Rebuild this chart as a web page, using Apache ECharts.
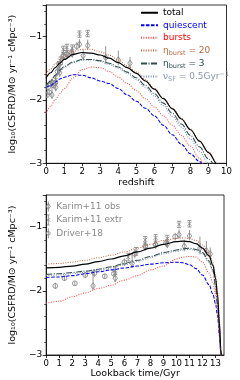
<!DOCTYPE html>
<html><head><meta charset="utf-8">
<script src="https://cdn.jsdelivr.net/npm/echarts@6/dist/echarts.min.js"></script>
<style>html,body{margin:0;padding:0;background:#fff}#c{width:240px;height:380px}</style>
</head><body><div id="c"></div>
<script>
// ---------- top panel: redshift ----------
const zGrid = [0, 0.25, 0.5, 0.75, 1, 1.5, 2, 2.5, 3, 3.5, 4, 4.5, 5, 5.5, 6, 6.5, 7, 7.5, 8, 8.5, 9, 9.5, 10];
const zTotal = [-1.65, -1.57, -1.49, -1.42, -1.36, -1.28, -1.25, -1.26, -1.29, -1.34, -1.41, -1.49, -1.58, -1.70, -1.83, -1.98, -2.14, -2.30, -2.47, -2.65, -2.83, -3.02, -3.2];
const zEta20 = [-1.59, -1.51, -1.43, -1.36, -1.31, -1.23, -1.20, -1.20, -1.24, -1.29, -1.37, -1.46, -1.56, -1.68, -1.82, -1.97, -2.13, -2.29, -2.46, -2.64, -2.82, -3.01, -3.2];
const zEta3 = [-1.77, -1.70, -1.61, -1.53, -1.47, -1.40, -1.36, -1.36, -1.38, -1.42, -1.48, -1.56, -1.65, -1.77, -1.90, -2.05, -2.21, -2.38, -2.56, -2.74, -2.93, -3.1, -3.3];
const zNuSF = [-1.80, -1.72, -1.63, -1.55, -1.49, -1.41, -1.37, -1.37, -1.39, -1.44, -1.50, -1.58, -1.68, -1.80, -1.94, -2.09, -2.26, -2.43, -2.62, -2.81, -3.0, -3.2, -3.4];
const zGridB = [0, 0.25, 0.5, 0.75, 1, 1.5, 2, 2.5, 3, 3.5, 4, 4.5, 5, 5.5, 6, 6.5, 7, 7.5, 8, 8.5, 8.75, 9];
const zQuiescent = [-1.80, -1.77, -1.72, -1.67, -1.64, -1.60, -1.61, -1.65, -1.70, -1.74, -1.82, -1.92, -2.02, -2.13, -2.25, -2.40, -2.55, -2.70, -2.85, -2.97, -3.03, -3.1];
const zBursts = [-2.21, -2.10, -2.00, -1.90, -1.82, -1.65, -1.52, -1.48, -1.49, -1.55, -1.64, -1.74, -1.85, -1.98, -2.11, -2.25, -2.40, -2.56, -2.73, -2.92, -3.02, -3.1];

// ---------- bottom panel: lookback time ----------
const tGrid = [0, 1, 2, 3, 4, 5, 6, 7, 8, 9, 10, 10.5, 11, 11.5, 12, 12.5, 12.8, 13.0, 13.15, 13.3, 13.4, 13.5];
const tTotal = [-1.64, -1.63, -1.61, -1.58, -1.54, -1.50, -1.45, -1.39, -1.33, -1.27, -1.23, -1.22, -1.23, -1.26, -1.33, -1.45, -1.60, -1.80, -2.05, -2.50, -2.90, -3.3];
const tEta20 = [-1.58, -1.57, -1.55, -1.52, -1.48, -1.44, -1.39, -1.33, -1.27, -1.21, -1.18, -1.17, -1.18, -1.21, -1.28, -1.40, -1.56, -1.76, -2.02, -2.48, -2.88, -3.3];
const tEta3 = [-1.74, -1.73, -1.71, -1.69, -1.66, -1.62, -1.57, -1.52, -1.46, -1.40, -1.36, -1.34, -1.33, -1.35, -1.40, -1.53, -1.67, -1.92, -2.20, -2.60, -2.95, -3.3];
const tNuSF = [-1.76, -1.75, -1.73, -1.71, -1.68, -1.64, -1.59, -1.54, -1.48, -1.42, -1.38, -1.36, -1.35, -1.37, -1.42, -1.55, -1.70, -1.95, -2.22, -2.65, -3.0, -3.3];
const tQuiescent = [-1.79, -1.78, -1.76, -1.73, -1.70, -1.67, -1.64, -1.61, -1.58, -1.56, -1.55, -1.56, -1.59, -1.65, -1.75, -1.90, -2.05, -2.20, -2.38, -2.70, -2.95, -3.3];
const tBursts = [-2.19, -2.16, -2.09, -2.03, -1.96, -1.91, -1.83, -1.76, -1.67, -1.61, -1.50, -1.47, -1.46, -1.47, -1.55, -1.72, -1.88, -2.05, -2.30, -2.70, -2.95, -3.3];

// ---------- observations ----------
const driverT = [0.7, 1.4, 2.2, 3.0, 3.7, 4.5, 5.2, 6.0, 6.8, 7.6, 8.4, 9.2, 9.9];
const driverZ = [0.05, 0.10, 0.17, 0.24, 0.32, 0.41, 0.51, 0.63, 0.78, 0.95, 1.15, 1.40, 1.70];
const driverV = [-1.92, -1.80, -1.88, -1.75, -1.72, -1.77, -1.73, -1.55, -1.42, -1.30, -1.28, -1.25, -1.15];
const driverErr = [0.05, 0.04, 0.03, 0.05, 0.06, 0.04, 0.05, 0.06, 0.07, 0.06, 0.06, 0.06, 0.06];

const karimObsT = [3.6, 5.3, 6.6, 7.6, 8.4, 9.3, 10.2, 10.6, 11.0, 11.8, 12.3, 12.6];
const karimObsZ = [0.32, 0.53, 0.75, 0.95, 1.15, 1.45, 1.85, 2.05, 2.3, 3.3, 4.0, 4.65];
const karimObsV = [-1.92, -1.80, -1.57, -1.31, -1.27, -1.27, -1.12, -1.30, -1.14, -1.33, -1.37, -1.42];
const karimObsErrLo = [0.06, 0.06, 0.07, 0.06, 0.06, 0.06, 0.06, 0.08, 0.07, 0.10, 0.08, 0.08];
const karimObsErrHi = [0.25, 0.20, 0.15, 0.10, 0.10, 0.10, 0.08, 0.10, 0.09, 0.18, 0.15, 0.10];

const karimExtrT = [5.3, 6.3, 6.9, 7.6, 8.4, 9.3, 10.2, 11.0];
const karimExtrZ = [0.53, 0.68, 0.80, 0.95, 1.15, 1.45, 1.85, 2.3];
const karimExtrV = [-1.68, -1.47, -1.38, -1.20, -1.17, -1.18, -0.96, -0.95];
const karimExtrErr = [0.06, 0.06, 0.06, 0.05, 0.05, 0.05, 0.05, 0.05];

const yTickLabels = ['−3', '−2', '−1'];

const FONT = 'DejaVu Sans';
const GREY = '#8a8a8a';
const C = { total: '#000000', quiescent: '#0000ff', bursts: '#ff4a4a', eta20: '#c26a40', eta3: '#2f4f4f', nusf: '#8090a8' };

const chart = echarts.init(document.getElementById('c'), null, { renderer: 'canvas' });

function pairs(xs, ys) { return xs.map((x, i) => [x, ys[i]]); }

function lineSeries(name, xs, ys, color, type, idx, width) {
  return {
    type: 'line', name: name, xAxisIndex: idx, yAxisIndex: idx,
    data: pairs(xs, ys), symbol: 'none', showSymbol: false, smooth: 0.35, smoothMonotone: 'x',
    lineStyle: { color: color, width: width || 1.05, type: type },
    itemStyle: { color: color }, clip: true, z: 3
  };
}

function errSeries(name, xs, vs, lo, hi, marker, idx) {
  return {
    type: 'custom', name: name, xAxisIndex: idx, yAxisIndex: idx, clip: true, z: 2,
    data: xs.map((x, i) => [x, vs[i], vs[i] - lo[i], vs[i] + hi[i]]),
    itemStyle: { color: GREY },
    renderItem: function (params, api) {
      const p = api.coord([api.value(0), api.value(1)]);
      const a = api.coord([api.value(0), api.value(2)]);
      const b = api.coord([api.value(0), api.value(3)]);
      const st = { stroke: GREY, lineWidth: 0.9, fill: null };
      const ch = [{ type: 'line', shape: { x1: a[0], y1: a[1], x2: b[0], y2: b[1] }, style: st }];
      if (marker === 'diamond') {
        ch.push({ type: 'polygon', shape: { points: [[p[0], p[1] - 3.3], [p[0] + 2.2, p[1]], [p[0], p[1] + 3.3], [p[0] - 2.2, p[1]]] }, style: { stroke: GREY, lineWidth: 0.9, fill: 'rgba(255,255,255,0)' } });
      } else if (marker === 'circle') {
        ch.push({ type: 'circle', shape: { cx: p[0], cy: p[1], r: 2.4 }, style: { stroke: GREY, lineWidth: 0.9, fill: 'rgba(255,255,255,0)' } });
      } else {
        ch.push({ type: 'line', shape: { x1: p[0] - 2, y1: p[1] - 2, x2: p[0] + 2, y2: p[1] + 2 }, style: st });
        ch.push({ type: 'line', shape: { x1: p[0] - 2, y1: p[1] + 2, x2: p[0] + 2, y2: p[1] - 2 }, style: st });
        ch.push({ type: 'line', shape: { x1: a[0] - 2, y1: a[1], x2: a[0] + 2, y2: a[1] }, style: st });
        ch.push({ type: 'line', shape: { x1: b[0] - 2, y1: b[1], x2: b[0] + 2, y2: b[1] }, style: st });
      }
      return { type: 'group', children: ch };
    }
  };
}

const yName = 'log₁₀(CSFRD/M⊙ yr⁻¹ cMpc⁻³)';
function yAxis(idx) {
  return {
    type: 'value', gridIndex: idx, min: -3, max: -0.5, interval: 1,
    name: yName, nameLocation: 'middle', nameGap: 20,
    nameTextStyle: { fontFamily: FONT, fontSize: 9.5, color: '#000' },
    axisLine: { show: true, lineStyle: { color: '#000', width: 0.8 } },
    axisTick: { show: true, inside: false, length: 3.5, lineStyle: { color: '#000', width: 0.8 } },
    minorTick: { show: true, splitNumber: 5, length: 2, lineStyle: { color: '#000', width: 0.6 } },
    splitLine: { show: false }, minorSplitLine: { show: false },
    axisLabel: { fontFamily: FONT, fontSize: 9, color: '#000', margin: 4, showMaxLabel: false,
      formatter: v => (Number.isInteger(v) && v >= -3 && v <= -1) ? yTickLabels[v + 3] : '' }
  };
}
function xAxis(idx, max, name) {
  return {
    type: 'value', gridIndex: idx, min: 0, max: max, interval: 1,
    name: name, nameLocation: 'middle', nameGap: 14,
    nameTextStyle: { fontFamily: FONT, fontSize: 9.5, color: '#000' },
    axisLine: { show: true, onZero: false, lineStyle: { color: '#000', width: 0.8 } },
    axisTick: { show: true, inside: false, length: 3, lineStyle: { color: '#000', width: 0.8 } },
    splitLine: { show: false },
    axisLabel: { fontFamily: FONT, fontSize: 8.5, color: '#000', margin: 4, showMaxLabel: Number.isInteger(max),
      formatter: v => Number.isInteger(v) ? String(v) : '' }
  };
}

const richSub = {
  s: { fontSize: 6.5, lineHeight: 12, verticalAlign: 'bottom', fontFamily: FONT },
  sup: { fontSize: 6.5, lineHeight: 12, verticalAlign: 'top', fontFamily: FONT }
};
const legendFmt = {
  'total': 'total', 'quiescent': 'quiescent', 'bursts': 'bursts',
  'ηburst = 20': 'η{s|burst} = 20', 'ηburst = 3': 'η{s|burst} = 3', 'νSF = 0.5Gyr⁻¹': 'ν{s|SF} = 0.5Gyr{sup|−1}'
};
const hideSym = { opacity: 0 };

const option = {
  animation: false,
  backgroundColor: '#fff',
  textStyle: { fontFamily: FONT },
  grid: [
    { left: 33, top: 5, width: 193.5, height: 158.3, show: true, borderColor: '#000', borderWidth: 0.8, backgroundColor: 'transparent' },
    { left: 33, top: 195, width: 191, height: 160.7, show: true, borderColor: '#000', borderWidth: 0.8, backgroundColor: 'transparent' }
  ],
  xAxis: [xAxis(0, 10, 'redshift'), xAxis(1, 13.65, 'Lookback time/Gyr')],
  yAxis: [yAxis(0), yAxis(1)],
  legend: [
    {
      orient: 'vertical', left: 140, top: 7, padding: 0, itemGap: 1, itemWidth: 17, itemHeight: 8,
      textStyle: { fontFamily: FONT, fontSize: 9, lineHeight: 11.5, rich: richSub },
      formatter: n => legendFmt[n] || n,
      data: [
        { name: 'total', textStyle: { color: '#000' }, itemStyle: hideSym },
        { name: 'quiescent', textStyle: { color: '#0000ff' }, itemStyle: hideSym },
        { name: 'bursts', textStyle: { color: '#ff0000' }, itemStyle: hideSym },
        { name: 'ηburst = 20', textStyle: { color: '#b8683f' }, itemStyle: hideSym },
        { name: 'ηburst = 3', textStyle: { color: '#2f4f4f' }, itemStyle: hideSym },
        { name: 'νSF = 0.5Gyr⁻¹', textStyle: { color: '#8a97aa' }, itemStyle: hideSym }
      ]
    },
    {
      orient: 'vertical', left: 46, top: 201, padding: 0, itemGap: 2.5, itemWidth: 6, itemHeight: 10,
      textStyle: { fontFamily: FONT, fontSize: 9, color: GREY },
      data: [
        { name: 'Karim+11 obs', icon: 'path://M3,0L3,16M3,3L6,8L3,13L0,8Z', itemStyle: { color: 'transparent', borderColor: GREY, borderWidth: 0.9 } },
        { name: 'Karim+11 extr', icon: 'path://M3,0L3,16M1,0L5,0M1,16L5,16M0.5,5.5L5.5,10.5M0.5,10.5L5.5,5.5', itemStyle: { color: 'transparent', borderColor: GREY, borderWidth: 0.9 } },
        { name: 'Driver+18', icon: 'path://M3,0L3,16M3,5A3,3,0,1,1,2.99,5Z', itemStyle: { color: 'transparent', borderColor: GREY, borderWidth: 0.9 } }
      ]
    }
  ],
  series: [
    errSeries('Karim+11 obs', karimObsZ, karimObsV, karimObsErrLo, karimObsErrHi, 'diamond', 0),
    errSeries('Karim+11 extr', karimExtrZ, karimExtrV, karimExtrErr, karimExtrErr, 'x', 0),
    errSeries('Driver+18', driverZ, driverV, driverErr, driverErr, 'circle', 0),
    lineSeries('quiescent', zGridB, zQuiescent, C.quiescent, [3.5, 1.5], 0),
    lineSeries('bursts', zGridB, zBursts, C.bursts, [1, 1.4], 0),
    lineSeries('νSF = 0.5Gyr⁻¹', zGrid, zNuSF, C.nusf, [1, 1.4], 0),
    lineSeries('ηburst = 3', zGrid, zEta3, C.eta3, [6, 1.5, 1, 1.5], 0),
    lineSeries('ηburst = 20', zGrid, zEta20, C.eta20, [1, 1.4], 0),
    lineSeries('total', zGrid, zTotal, C.total, 'solid', 0, 1.2),

    errSeries('Karim+11 obs', karimObsT, karimObsV, karimObsErrLo, karimObsErrHi, 'diamond', 1),
    errSeries('Karim+11 extr', karimExtrT, karimExtrV, karimExtrErr, karimExtrErr, 'x', 1),
    errSeries('Driver+18', driverT, driverV, driverErr, driverErr, 'circle', 1),
    lineSeries('quiescent', tGrid, tQuiescent, C.quiescent, [3.5, 1.5], 1),
    lineSeries('bursts', tGrid, tBursts, C.bursts, [1, 1.4], 1),
    lineSeries('νSF = 0.5Gyr⁻¹', tGrid, tNuSF, C.nusf, [1, 1.4], 1),
    lineSeries('ηburst = 3', tGrid, tEta3, C.eta3, [6, 1.5, 1, 1.5], 1),
    lineSeries('ηburst = 20', tGrid, tEta20, C.eta20, [1, 1.4], 1),
    lineSeries('total', tGrid, tTotal, C.total, 'solid', 1, 1.2)
  ]
};
chart.setOption(option);
</script>
</body></html>
